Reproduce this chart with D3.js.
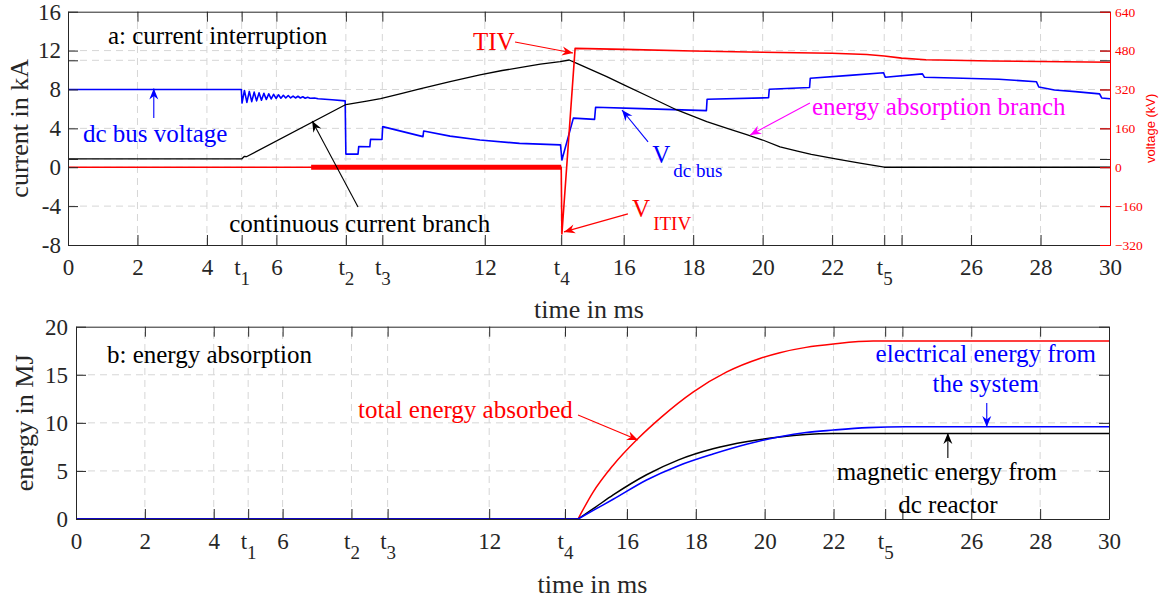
<!DOCTYPE html>
<html>
<head>
<meta charset="utf-8">
<script src="https://cdn.jsdelivr.net/npm/d3@7"></script>
<style>
body{margin:0;background:#fff}
svg text{font-family:"Liberation Serif","Times New Roman",serif}
</style>
</head>
<body>
<svg id="fig" width="1160" height="598"></svg>
<script>
// ---- data ----
var xTicks = [0,2,4,5,6,8,9.05,12,14.2,16,18,20,22,23.5,24,26,28,30];
var xTickLabels = ["0","2","4","t1","6","t2","t3","12","t4","16","18","20","22","t5","","26","28","30"];
var yTicksCurrent = [-8,-4,0,0.85,4,8,11,12,16];
var yTicksVoltage = [-320,-160,0,160,320,480,640];
var yTicksEnergy = [0,5,10,15,20];

// dc bus voltage, [ms, kV]
var busVoltage = [[0,320],[4.99,320],[5.01,264],[5.08,316],[5.15,267],[5.22,312],[5.29,270],[5.36,309],
  [5.43,273],[5.50,306],[5.57,276],[5.64,304],[5.71,279],[5.78,302],[5.85,281],[5.92,300],[5.99,283],
  [6.06,298],[6.13,284],[6.20,296],[6.27,285],[6.34,295],[6.41,285],[6.48,293],[6.55,285],[6.62,292],
  [6.69,285],[6.76,290],[6.83,284],[6.90,288],[6.97,284],[7.1,285],[7.2,282],[7.6,278],[7.98,273],
  [8.0,54],[8.35,54],[8.37,85],[8.69,84],[8.71,115],[9.04,114],[9.06,167],[10.22,126],[10.24,149],
  [11.0,128],[11.86,112],[13.0,98],[14.18,92],[14.22,30],[14.55,202],[15.16,197],[15.19,247],[16.5,241],
  [18.38,233],[18.4,280],[20.17,286],[20.19,321],[21.35,328],[21.37,366],[22.5,378],[23.48,389],
  [23.53,370],[24.6,384],[24.66,370],[25.5,367],[26.8,362],[27.88,352],[27.95,330],[28.4,318],
  [29.0,311],[29.7,302],[29.76,285],[30,282]];

// breaker voltage (TIV), [ms, kV]
var breakerVoltage = [[0,0],[14.2,0],[14.22,-275],[14.6,489],[16,485],[18,478],[20,473],[22,469],
  [23,464],[23.5,458],[24,449],[24.7,442],[26.6,437],[28,435],[30,432]];
var thickRed = [[7.0,0],[14.2,0]];

// breaker current, [ms, kA]
var current = [[0,0.85],[5.0,0.85],[5.08,1.12],[5.15,1.1],[8.0,6.45],[8.6,6.8],[9.0,7.05],[9.56,7.55],
  [10.13,8.05],[11.0,8.8],[11.86,9.5],[12.5,9.95],[13.3,10.42],[13.6,10.6],[14.17,10.86],[14.43,11.03],
  [14.65,10.69],[15.51,9.32],[15.99,8.5],[16.7,7.3],[17.53,5.89],[18.39,4.69],[19.0,3.98],[19.54,3.35],
  [20.0,2.8],[20.5,2.1],[21.0,1.65],[21.4,1.32],[22.1,0.86],[22.8,0.42],[23.5,0],[30,0]];

// energies, [ms, MJ]
var energyTotal = [[0,0],[14.58,0],[15.0,2.7],[15.6,5.6],[16.33,8.4],[17.0,10.6],[17.92,13.2],
  [18.9,15.3],[19.86,16.7],[20.44,17.3],[21.2,17.85],[22.0,18.2],[23.15,18.5],[30,18.5]];
var energyMagnetic = [[0,0],[14.58,0],[15.1,1.27],[15.6,2.5],[16.57,4.6],[17.5,6.15],[18.5,7.3],
  [19.5,8.05],[20.44,8.53],[21.2,8.78],[22.0,8.88],[23.0,8.9],[30,8.9]];
var energyElectrical = [[0,0],[14.58,0],[15.1,1.05],[15.6,2.05],[16.57,4.06],[17.5,5.55],[18.5,6.76],
  [19.5,7.8],[20.44,8.56],[21.2,9.0],[22.0,9.25],[23.0,9.5],[24.1,9.6],[30,9.6]];
var energyStart = 14.58;

// ---- setup ----
var svg = d3.select("#fig");
var axisCol = "#262626", gridCol = "#d6d6d6";

var xA = d3.scaleLinear().domain([0,30]).range([68,1110]);
var yA = d3.scaleLinear().domain([-8,16]).range([245,11.7]);
var yV = d3.scaleLinear().domain([-320,640]).range([245,11.7]);
var xB = d3.scaleLinear().domain([0,30]).range([76,1109]);
var yB = d3.scaleLinear().domain([0,20]).range([519,326.7]);

var defs = svg.append("defs");
var arrowColors = {k:"#000000", b:"#0000ff", r:"#ff0000", m:"#ff00ff"};
Object.keys(arrowColors).forEach(function(k){
  defs.append("marker").attr("id","ah-"+k)
    .attr("viewBox","-12 -6 13 12").attr("refX",0).attr("refY",0)
    .attr("markerWidth",13).attr("markerHeight",12).attr("markerUnits","userSpaceOnUse")
    .attr("orient","auto")
    .append("path").attr("d","M0,0 L-11,-4.5 L-7.5,0 L-11,4.5 Z").attr("fill",arrowColors[k]);
});

function grid(g, x, y, xs, ys){
  var x0 = x.range()[0], x1 = x.range()[1], y0 = y.range()[0], y1 = y.range()[1];
  g.selectAll(null).data(xs.filter(function(d){return d>x.domain()[0] && d<x.domain()[1]})).enter()
    .append("line").attr("x1",function(d){return x(d)}).attr("x2",function(d){return x(d)})
    .attr("y1",y0).attr("y2",y1).attr("stroke",gridCol).attr("stroke-dasharray","7,5");
  g.selectAll(null).data(ys.filter(function(d){return d>y.domain()[0] && d<y.domain()[1]})).enter()
    .append("line").attr("y1",function(d){return y(d)}).attr("y2",function(d){return y(d)})
    .attr("x1",x0).attr("x2",x1).attr("stroke",gridCol).attr("stroke-dasharray","7,5");
}

function plotLine(g, data, x, y, color, w, curve){
  g.append("path").datum(data)
    .attr("d", d3.line().curve(curve || d3.curveLinear)
      .x(function(d){return x(d[0])}).y(function(d){return y(d[1])}))
    .attr("fill","none").attr("stroke",color).attr("stroke-width",w).attr("stroke-linejoin","round");
}
// energy curves: flat part straight, rising part smoothed
function plotEnergy(g, data, color, w){
  plotLine(g, data.filter(function(d){return d[0]<=energyStart}), xB, yB, color, w);
  plotLine(g, data.filter(function(d){return d[0]>=energyStart}), xB, yB, color, w, d3.curveMonotoneX);
}

function xAxes(g, x, y){
  var yb = y.range()[0], yt = y.range()[1];
  var ax = g.append("g").attr("transform","translate(0,"+yb+")")
    .call(d3.axisBottom(x).tickValues(xTicks).tickSize(-10).tickSizeOuter(0).tickPadding(14)
      .tickFormat(function(d,i){return xTickLabels[i]}));
  ax.attr("color",axisCol).attr("font-size",23).attr("font-family",null);
  ax.selectAll(".tick text").each(function(d,i){
    var s = xTickLabels[i];
    if(s.length==2 && s[0]=="t"){
      var t = d3.select(this).text(null);
      t.append("tspan").text("t");
      t.append("tspan").attr("dy",10).attr("font-size",19).text(s[1]);
    }
  });
  g.append("g").attr("transform","translate(0,"+yt+")")
    .call(d3.axisTop(x).tickValues(xTicks).tickSize(-10).tickSizeOuter(0).tickFormat(""))
    .attr("color",axisCol);
}

function note(g, x, y, str, color, anchor){
  return g.append("text").attr("x",x).attr("y",y).attr("fill",color)
    .attr("font-size",25).attr("text-anchor",anchor||"start").text(str);
}
function subNote(g, x, y, main, sub, color, dy){
  var t = g.append("text").attr("x",x).attr("y",y).attr("fill",color).attr("font-size",25);
  t.append("tspan").text(main);
  t.append("tspan").attr("dx",3).attr("dy",dy).attr("font-size",19).text(sub);
}
function arrow(g, x1, y1, x2, y2, k){
  g.append("line").attr("x1",x1).attr("y1",y1).attr("x2",x2).attr("y2",y2)
    .attr("stroke",arrowColors[k]).attr("stroke-width",1.1).attr("marker-end","url(#ah-"+k+")");
}

// ---- panel a: current interruption ----
var pa = svg.append("g");
grid(pa, xA, yA, xTicks, yTicksCurrent);

plotLine(pa, busVoltage, xA, yV, "#0000ff", 1.6);
plotLine(pa, current, xA, yA, "#000000", 1.3);
plotLine(pa, breakerVoltage, xA, yV, "#ff0000", 1.6);
plotLine(pa, thickRed, xA, yV, "#ff0000", 5);

xAxes(pa, xA, yA);
var axL = pa.append("g").attr("transform","translate("+xA(0)+",0)")
  .call(d3.axisLeft(yA).tickValues(yTicksCurrent).tickSize(-10).tickSizeOuter(0).tickPadding(7)
    .tickFormat(function(d){return d%4===0 ? d : ""}));
axL.attr("color",axisCol).attr("font-size",23).attr("font-family",null);
pa.append("g").attr("transform","translate("+xA(30)+",0)")
  .call(d3.axisRight(yA).tickValues(yTicksCurrent).tickSize(-10).tickSizeOuter(0).tickFormat(""))
  .attr("color",axisCol);
pa.append("g").attr("transform","translate("+xA(30)+",0)")
  .call(d3.axisRight(yV).tickValues(yTicksVoltage).tickSize(-10).tickSizeOuter(0).tickPadding(5))
  .attr("color","#ff0000").attr("font-size",13.5).attr("font-family","'Liberation Sans',Arial,sans-serif");

pa.append("text").attr("transform","translate(28,"+yA(4)+") rotate(-90)")
  .attr("text-anchor","middle").attr("font-size",26).attr("fill",axisCol).text("current in kA");
pa.append("text").attr("transform","translate(1155,"+yA(4)+") rotate(-90)")
  .attr("text-anchor","middle").attr("font-size",13).attr("fill","#ff0000")
  .style("font-family","'Liberation Sans',Arial,sans-serif").text("voltage (kV)");
pa.append("text").attr("x",xA(15)).attr("y",318).attr("text-anchor","middle")
  .attr("font-size",26).attr("fill",axisCol).text("time in ms");

note(pa, xA(1.15), yA(12.68), "a: current interruption", "#000");
note(pa, xA(0.43), yA(2.6), "dc bus voltage", "#0000ff");
arrow(pa, xA(2.47), yA(5.07), xA(2.47), yA(8.1), "b");
note(pa, xA(4.64), yA(-6.65), "continuous current branch", "#000");
arrow(pa, xA(8.35), yA(-4.08), xA(7.03), yA(4.76), "k");
note(pa, xA(11.66), yA(12.06), "TIV", "#ff0000");
arrow(pa, xA(12.87), yA(12.88), xA(14.54), yA(11.75), "r");
subNote(pa, xA(16.24), yA(-5.13), "V", "ITIV", "#ff0000", 13);
arrow(pa, xA(16.12), yA(-4.8), xA(14.28), yA(-6.65), "r");
subNote(pa, xA(16.82), yA(0.44), "V", "dc bus", "#0000ff", 14);
arrow(pa, xA(16.7), yA(2.6), xA(15.95), yA(5.89), "b");
note(pa, xA(21.42), yA(5.37), "energy absorption branch", "#ff00ff");
arrow(pa, xA(21.36), yA(6.61), xA(19.64), yA(3.32), "m");

// ---- panel b: energy absorption ----
var pb = svg.append("g");
grid(pb, xB, yB, xTicks, yTicksEnergy);

plotEnergy(pb, energyTotal, "#ff0000", 1.5);
plotEnergy(pb, energyMagnetic, "#000000", 1.5);
plotEnergy(pb, energyElectrical, "#0000ff", 1.6);

xAxes(pb, xB, yB);
var axLB = pb.append("g").attr("transform","translate("+xB(0)+",0)")
  .call(d3.axisLeft(yB).tickValues(yTicksEnergy).tickSize(-10).tickSizeOuter(0).tickPadding(8));
axLB.attr("color",axisCol).attr("font-size",23).attr("font-family",null);
pb.append("g").attr("transform","translate("+xB(30)+",0)")
  .call(d3.axisRight(yB).tickValues(yTicksEnergy).tickSize(-10).tickSizeOuter(0).tickFormat(""))
  .attr("color",axisCol);

pb.append("text").attr("transform","translate(33,"+yB(10)+") rotate(-90)")
  .attr("text-anchor","middle").attr("font-size",26).attr("fill",axisCol).text("energy in MJ");
pb.append("text").attr("x",xB(15)).attr("y",593).attr("text-anchor","middle")
  .attr("font-size",26).attr("fill",axisCol).text("time in ms");

note(pb, xB(0.9), yB(16.22), "b: energy absorption", "#000");
note(pb, xB(14.43), yB(10.5), "total energy absorbed", "#ff0000", "end");
arrow(pb, xB(14.58), yB(10.82), xB(16.32), yB(8.22), "r");
note(pb, xB(26.42), yB(16.33), "electrical energy from", "#0000ff", "middle");
note(pb, xB(26.42), yB(13.21), "the system", "#0000ff", "middle");
arrow(pb, xB(26.45), yB(12.06), xB(26.45), yB(9.57), "b");
note(pb, xB(25.29), yB(4.06), "magnetic energy from", "#000", "middle");
note(pb, xB(25.32), yB(0.62), "dc reactor", "#000", "middle");
arrow(pb, xB(25.32), yB(6.34), xB(25.32), yB(8.94), "k");
</script>
</body>
</html>
